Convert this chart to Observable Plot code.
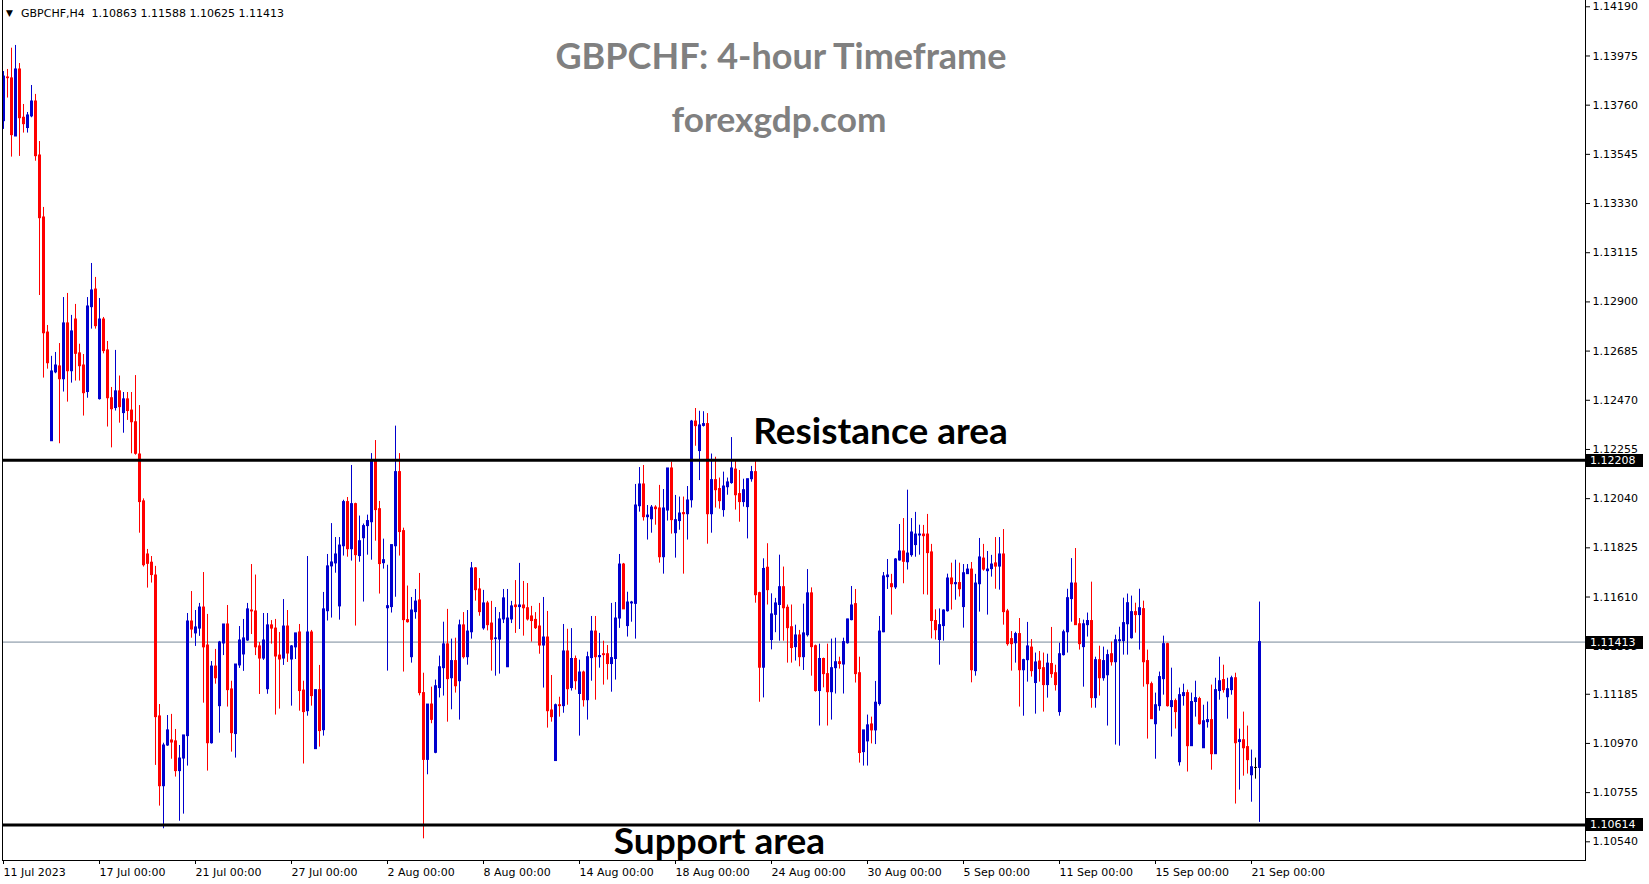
<!DOCTYPE html>
<html><head><meta charset="utf-8">
<script src="https://cdn.jsdelivr.net/npm/d3@7"></script>
<script src="https://cdn.jsdelivr.net/npm/@observablehq/plot@0.6"></script>
<style>
html,body{margin:0;padding:0;background:#fff;}
#chart{position:relative;width:1649px;height:884px;overflow:hidden;}
</style></head><body><div id="chart"></div>
<script>
const symbolLabel = "GBPCHF,H4";
const titleText = "GBPCHF: 4-hour Timeframe";
const subtitleText = "forexgdp.com";
const resistanceLabel = "Resistance area";
const supportLabel = "Support area";

const openP = [
1.13690,1.13881,1.13877,1.13623,1.13916,1.13705,1.13660,1.13711,1.13776,1.13540,
1.13269,1.12766,1.12291,1.12592,1.12618,1.12562,1.12806,1.12597,1.12823,1.12675,
1.12622,1.12506,1.12877,1.12954,1.12475,1.12823,1.12688,1.12479,1.12436,1.12509,
1.12414,1.12474,1.12425,1.12374,1.12233,1.12028,1.11796,1.11760,1.11704,1.11088,
1.10783,1.10961,1.10983,1.10979,1.10849,1.10904,1.11002,1.11503,1.11451,1.11472,
1.11564,1.11398,1.10971,1.11306,1.11133,1.11407,1.11490,1.11206,1.11011,1.11311,
1.11359,1.11420,1.11551,1.11547,1.11394,1.11341,1.11207,1.11486,1.11472,1.11354,
1.11341,1.11481,1.11337,1.11390,1.11455,1.11201,1.11111,1.11455,1.10945,1.11203,
1.11028,1.11548,1.11744,1.11757,1.11569,1.11832,1.12025,1.11819,1.12016,1.11789,
1.11867,1.11920,1.11937,1.12207,1.11994,1.11758,1.11561,1.11566,1.11832,1.12156,
1.11898,1.11509,1.11347,1.11544,1.11595,1.11190,1.10898,1.11140,1.10929,1.11212,
1.11299,1.11403,1.11255,1.11330,1.11242,1.11486,1.11347,1.11456,1.11735,1.11643,
1.11473,1.11582,1.11494,1.11426,1.11424,1.11512,1.11303,1.11512,1.11573,1.11566,
1.11573,1.11561,1.11525,1.11510,1.11481,1.11398,1.11433,1.11114,1.10893,1.11137,
1.11133,1.11372,1.11212,1.11339,1.11186,1.11280,1.11159,1.11343,1.11459,1.11347,
1.11360,1.11360,1.11317,1.11339,1.11516,1.11752,1.11483,1.11582,1.11580,1.12007,
1.12102,1.11959,1.11950,1.12001,1.11997,1.11784,1.11988,1.12172,1.11889,1.11942,
1.11977,1.11972,1.12033,1.12377,1.12248,1.12358,1.12366,1.11972,1.12121,1.12082,
1.11990,1.12090,1.12108,1.12167,1.12060,1.12025,1.12003,1.12125,1.12156,1.11627,
1.11301,1.11738,1.11422,1.11532,1.11575,1.11653,1.11563,1.11478,1.11391,1.11442,
1.11347,1.11443,1.11626,1.11395,1.11199,1.11339,1.11273,1.11194,1.11299,1.11325,
1.11315,1.11408,1.11509,1.11579,1.11277,1.10932,1.10979,1.11053,1.11027,1.11142,
1.11456,1.11697,1.11666,1.11652,1.11770,1.11809,1.11762,1.11793,1.11837,1.11879,
1.11883,1.11883,1.11805,1.11505,1.11422,1.11483,1.11548,1.11691,1.11666,1.11671,
1.11566,1.11710,1.11730,1.11286,1.11666,1.11778,1.11723,1.11732,1.11757,1.11743,
1.11796,1.11547,1.11426,1.11408,1.11448,1.11290,1.11334,1.11389,1.11234,1.11328,
1.11299,1.11225,1.11317,1.11277,1.11107,1.11356,1.11456,1.11601,1.11669,1.11491,
1.11391,1.11487,1.11505,1.11168,1.11334,1.11255,1.11268,1.11360,1.11325,1.11417,
1.11417,1.11491,1.11430,1.11544,1.11531,1.11557,1.11330,1.11229,1.11054,1.11133,
1.11251,1.11404,1.11129,1.11155,1.10888,1.11177,1.11190,1.10958,1.11151,1.11164,
1.10949,1.11063,1.11072,1.10923,1.11199,1.11247,1.11172,1.11203,1.11255,1.10976,
1.10984,1.10954,1.10831,1.10863,1.10863];

const highP = [
1.13907,1.13916,1.14009,1.14021,1.13942,1.13763,1.13728,1.13846,1.13807,1.13601,
1.13313,1.12797,1.12662,1.12679,1.12718,1.12919,1.12937,1.12841,1.12889,1.12715,
1.12670,1.12919,1.13068,1.13007,1.12915,1.12832,1.12727,1.12526,1.12688,1.12576,
1.12504,1.12504,1.12504,1.12578,1.12447,1.12039,1.11818,1.11787,1.11744,1.11140,
1.10971,1.11092,1.11097,1.11031,1.10961,1.11005,1.11538,1.11634,1.11551,1.11582,
1.11717,1.11534,1.11328,1.11381,1.11416,1.11490,1.11573,1.11242,1.11315,1.11481,
1.11512,1.11582,1.11752,1.11706,1.11411,1.11538,1.11538,1.11507,1.11512,1.11455,
1.11599,1.11551,1.11398,1.11451,1.11490,1.11242,1.11787,1.11464,1.11203,1.11311,
1.11630,1.11796,1.11931,1.11870,1.11870,1.12033,1.12045,1.12185,1.12020,1.11964,
1.11929,1.11968,1.12237,1.12294,1.12028,1.11863,1.11749,1.11837,1.12357,1.12237,
1.11911,1.11658,1.11608,1.11643,1.11713,1.11277,1.11140,1.11216,1.11247,1.11352,
1.11500,1.11556,1.11426,1.11430,1.11509,1.11542,1.11551,1.11761,1.11739,1.11691,
1.11639,1.11591,1.11591,1.11564,1.11542,1.11643,1.11643,1.11591,1.11682,1.11757,
1.11678,1.11669,1.11569,1.11542,1.11582,1.11608,1.11547,1.11267,1.11142,1.11172,
1.11490,1.11469,1.11472,1.11352,1.11334,1.11286,1.11369,1.11525,1.11525,1.11451,
1.11417,1.11398,1.11582,1.11586,1.11796,1.11757,1.11631,1.11591,1.12102,1.12176,
1.12185,1.12010,1.12010,1.12009,1.12098,1.12080,1.12172,1.12200,1.12054,1.12047,
1.12047,1.12093,1.12382,1.12434,1.12422,1.12420,1.12412,1.12235,1.12221,1.12130,
1.12156,1.12130,1.12307,1.12204,1.12163,1.12125,1.12125,1.12181,1.12202,1.11631,
1.11777,1.11843,1.11624,1.11604,1.11793,1.11741,1.11575,1.11575,1.11487,1.11464,
1.11579,1.11730,1.11650,1.11400,1.11404,1.11343,1.11404,1.11426,1.11430,1.11347,
1.11430,1.11513,1.11656,1.11643,1.11347,1.11027,1.11094,1.11085,1.11241,1.11525,
1.11717,1.11774,1.11709,1.11778,1.11927,1.11953,1.12077,1.11953,1.11980,1.11924,
1.11923,1.11971,1.11840,1.11554,1.11558,1.11554,1.11710,1.11758,1.11771,1.11758,
1.11752,1.11752,1.11761,1.11709,1.11866,1.11840,1.11809,1.11792,1.11870,1.11870,
1.11905,1.11556,1.11459,1.11456,1.11516,1.11338,1.11499,1.11424,1.11365,1.11372,
1.11365,1.11360,1.11477,1.11312,1.11408,1.11465,1.11644,1.11778,1.11822,1.11516,
1.11509,1.11540,1.11675,1.11347,1.11395,1.11391,1.11378,1.11413,1.11443,1.11478,
1.11605,1.11623,1.11614,1.11583,1.11644,1.11592,1.11378,1.11238,1.11190,1.11282,
1.11439,1.11408,1.11299,1.11164,1.11212,1.11229,1.11203,1.11190,1.11242,1.11172,
1.11137,1.11151,1.11225,1.11255,1.11347,1.11312,1.11255,1.11264,1.11277,1.11033,
1.11107,1.11046,1.10941,1.10906,1.11588];

const lowP = [
1.13654,1.13791,1.13533,1.13623,1.13536,1.13638,1.13638,1.13705,1.13515,1.12928,
1.12567,1.12606,1.12291,1.12586,1.12280,1.12506,1.12462,1.12545,1.12554,1.12554,
1.12401,1.12479,1.12781,1.12781,1.12471,1.12673,1.12353,1.12262,1.12423,1.12370,
1.12326,1.12382,1.12236,1.12230,1.11889,1.11741,1.11649,1.11671,1.10874,1.10696,
1.10597,1.10957,1.10901,1.10823,1.10630,1.10661,1.10871,1.11430,1.11394,1.11438,
1.11146,1.10849,1.10967,1.11229,1.11015,1.11354,1.11129,1.10932,1.10906,1.11298,
1.11285,1.11416,1.11446,1.11354,1.11184,1.11333,1.11185,1.11404,1.11094,1.11120,
1.11311,1.11324,1.11133,1.11337,1.11111,1.10880,1.11089,1.11133,1.10945,1.10954,
1.11002,1.11505,1.11518,1.11714,1.11509,1.11789,1.11784,1.11767,1.11483,1.11762,
1.11588,1.11793,1.11771,1.11854,1.11623,1.11732,1.11286,1.11540,1.11609,1.11789,
1.11282,1.11496,1.11321,1.11513,1.11178,1.10553,1.10833,1.11056,1.10925,1.11169,
1.11177,1.11063,1.11117,1.11190,1.11072,1.11339,1.11312,1.11426,1.11592,1.11526,
1.11465,1.11462,1.11286,1.11264,1.11273,1.11494,1.11303,1.11494,1.11451,1.11468,
1.11439,1.11505,1.11413,1.11468,1.11360,1.11212,1.11037,1.11063,1.10893,1.11085,
1.11102,1.11137,1.11199,1.11203,1.11002,1.11129,1.11072,1.11242,1.11159,1.11299,
1.11225,1.11247,1.11194,1.11247,1.11473,1.11556,1.11435,1.11500,1.11426,1.11981,
1.11942,1.11859,1.11889,1.11924,1.11758,1.11710,1.11942,1.11885,1.11780,1.11902,
1.11710,1.11859,1.11999,1.12269,1.12119,1.12353,1.11841,1.11889,1.11999,1.11994,
1.11959,1.12055,1.12103,1.11990,1.11937,1.12003,1.11864,1.12112,1.11583,1.11150,
1.11169,1.11575,1.11379,1.11454,1.11417,1.11417,1.11321,1.11321,1.11330,1.11305,
1.11289,1.11435,1.11264,1.11194,1.11046,1.11213,1.11046,1.11072,1.11186,1.11295,
1.11186,1.11404,1.11506,1.11234,1.10884,1.10871,1.10871,1.10968,1.10965,1.11133,
1.11454,1.11643,1.11531,1.11643,1.11767,1.11668,1.11728,1.11784,1.11784,1.11793,
1.11620,1.11618,1.11427,1.11422,1.11312,1.11417,1.11544,1.11553,1.11596,1.11610,
1.11474,1.11710,1.11235,1.11264,1.11544,1.11723,1.11531,1.11697,1.11644,1.11640,
1.11487,1.11395,1.11286,1.11321,1.11129,1.11089,1.11238,1.11260,1.11098,1.11238,
1.11107,1.11168,1.11255,1.11199,1.11089,1.11352,1.11365,1.11500,1.11487,1.11378,
1.11216,1.11435,1.11124,1.11124,1.11177,1.11242,1.11046,1.11308,1.10963,1.10958,
1.11356,1.11356,1.11426,1.11452,1.11378,1.11216,1.10989,1.11076,1.10901,1.11111,
1.11181,1.11129,1.10998,1.11033,1.10871,1.11133,1.10845,1.10958,1.11085,1.11050,
1.10949,1.11037,1.10853,1.10923,1.11159,1.11190,1.11076,1.11181,1.10705,1.10766,
1.10827,1.10836,1.10713,1.10814,1.10625];

const closeP = [
1.13885,1.13878,1.13629,1.13916,1.13703,1.13677,1.13715,1.13776,1.13537,1.13266,
1.12763,1.12632,1.12596,1.12622,1.12562,1.12806,1.12597,1.12771,1.12673,1.12619,
1.12501,1.12880,1.12950,1.12794,1.12823,1.12685,1.12479,1.12431,1.12509,1.12440,
1.12474,1.12423,1.12374,1.12236,1.12025,1.11749,1.11755,1.11706,1.11085,1.10783,
1.10961,1.11027,1.10974,1.10849,1.10904,1.11005,1.11503,1.11468,1.11477,1.11564,
1.11390,1.10971,1.11306,1.11255,1.11411,1.11490,1.11203,1.11015,1.11315,1.11420,
1.11429,1.11556,1.11547,1.11390,1.11341,1.11420,1.11486,1.11472,1.11350,1.11337,
1.11481,1.11363,1.11394,1.11451,1.11199,1.11107,1.11455,1.11177,1.11203,1.11024,
1.11556,1.11744,1.11761,1.11796,1.11835,1.12025,1.11819,1.12016,1.11793,1.11854,
1.11920,1.11942,1.12207,1.11990,1.11754,1.11771,1.11570,1.11837,1.12156,1.11894,
1.11509,1.11500,1.11551,1.11590,1.11190,1.10898,1.11140,1.11073,1.11220,1.11303,
1.11403,1.11251,1.11330,1.11220,1.11486,1.11347,1.11459,1.11735,1.11640,1.11544,
1.11582,1.11487,1.11423,1.11429,1.11512,1.11604,1.11516,1.11569,1.11566,1.11573,
1.11561,1.11512,1.11505,1.11474,1.11398,1.11433,1.11111,1.11085,1.11137,1.11133,
1.11372,1.11207,1.11339,1.11242,1.11280,1.11159,1.11347,1.11459,1.11347,1.11352,
1.11356,1.11317,1.11343,1.11516,1.11752,1.11556,1.11586,1.11586,1.12010,1.12102,
1.11959,1.11966,1.12001,1.11994,1.11784,1.11997,1.12172,1.11946,1.11946,1.11975,
1.11972,1.12032,1.12377,1.12357,1.12360,1.12366,1.11972,1.12121,1.12077,1.12029,
1.12093,1.12111,1.12172,1.12055,1.12025,1.12077,1.12125,1.12156,1.11618,1.11301,
1.11733,1.11640,1.11534,1.11582,1.11653,1.11561,1.11474,1.11387,1.11442,1.11347,
1.11451,1.11626,1.11391,1.11199,1.11339,1.11273,1.11194,1.11299,1.11325,1.11317,
1.11413,1.11512,1.11573,1.11273,1.10928,1.11027,1.11049,1.11027,1.11148,1.11459,
1.11700,1.11704,1.11653,1.11774,1.11809,1.11764,1.11800,1.11892,1.11883,1.11883,
1.11876,1.11802,1.11505,1.11465,1.11487,1.11551,1.11691,1.11666,1.11671,1.11644,
1.11714,1.11730,1.11290,1.11669,1.11783,1.11730,1.11730,1.11752,1.11743,1.11796,
1.11544,1.11404,1.11404,1.11448,1.11290,1.11334,1.11394,1.11286,1.11324,1.11295,
1.11225,1.11319,1.11273,1.11225,1.11360,1.11456,1.11605,1.11669,1.11487,1.11404,
1.11491,1.11505,1.11168,1.11334,1.11255,1.11330,1.11356,1.11325,1.11421,1.11421,
1.11496,1.11583,1.11544,1.11531,1.11561,1.11325,1.11229,1.11076,1.11137,1.11260,
1.11404,1.11133,1.11155,1.11107,1.11181,1.11190,1.10958,1.11151,1.11168,1.11054,
1.11067,1.11072,1.10923,1.11203,1.11242,1.11203,1.11207,1.11255,1.10971,1.10984,
1.10949,1.10897,1.10866,1.10863,1.11413];

const xTickIndex = [0,24,48,72,96,120,144,168,192,216,240,264,288,312];
const xTickLabels = ["11 Jul 2023","17 Jul 00:00","21 Jul 00:00","27 Jul 00:00","2 Aug 00:00","8 Aug 00:00","14 Aug 00:00","18 Aug 00:00","24 Aug 00:00","30 Aug 00:00","5 Sep 00:00","11 Sep 00:00","15 Sep 00:00","21 Sep 00:00"];
const yTickValues = [1.14190,1.13975,1.13760,1.13545,1.13330,1.13115,1.12900,1.12685,1.12470,1.12255,1.12040,1.11825,1.11610,1.11395,1.11185,1.10970,1.10755,1.10540];
const resistanceLevel = 1.12208;
const supportLevel = 1.10614;

const BULL = "#0000CD", BEAR = "#FF0000", DOJI = "#000000";
const n = openP.length;
const currentPrice = closeP[n - 1];
const candles = openP.map((o, i) => ({i, o, h: highP[i], l: lowP[i], c: closeP[i]}));
const colorOf = d => d.c > d.o ? BULL : d.c < d.o ? BEAR : DOJI;

const chart = Plot.plot({
  width: 1649, height: 884,
  marginLeft: 3, marginRight: 66, marginTop: 0, marginBottom: 24,
  x: {type: "linear", domain: [0, 395]},
  y: {domain: [1.104583, 1.142175]},
  color: {type: "identity"},
  style: {fontFamily: "DejaVu Sans", fontSize: "11px", color: "#000", background: "#fff", overflow: "visible"},
  marks: [
    Plot.ruleY([currentPrice], {stroke: "#778899", strokeWidth: 1, insetLeft: -1, insetRight: -2}),
    Plot.ruleX(candles, {x: "i", y1: "h", y2: "l", stroke: colorOf, strokeWidth: 1}),
    Plot.ruleX(candles, {x: "i", y1: d => Math.max(d.o, d.c), y2: d => Math.min(d.o, d.c), stroke: colorOf, strokeWidth: 3, insetTop: -0.5, insetBottom: -0.5}),
    Plot.ruleY([resistanceLevel, supportLevel], {stroke: "#000", strokeWidth: 3, insetLeft: -1, insetRight: -2}),
    Plot.axisY(yTickValues, {anchor: "right", tickSize: 4, tickPadding: 3, dx: 2, label: null, tickFormat: d => d.toFixed(5)}),
    Plot.axisX(xTickIndex, {anchor: "bottom", tickSize: 4, tickPadding: 4, textAnchor: "start", dx: 0, label: null,
      tickFormat: d => xTickLabels[xTickIndex.indexOf(d)]})
  ]
});
document.getElementById("chart").appendChild(chart);

const svg = d3.select(chart);
const ys = chart.scale("y");
// frame lines
const frame = svg.append("g").attr("stroke", "#000").attr("stroke-width", 1);
frame.append("line").attr("x1", 2.5).attr("x2", 2.5).attr("y1", 0).attr("y2", 861);
frame.append("line").attr("x1", 1585.5).attr("x2", 1585.5).attr("y1", 0).attr("y2", 861);
frame.append("line").attr("x1", 2).attr("x2", 1586).attr("y1", 860.5).attr("y2", 860.5);

// highlighted price labels on the right axis
const hl = svg.append("g").attr("text-anchor", "start");
[resistanceLevel, currentPrice, supportLevel].forEach(v => {
  const py = Math.round(ys.apply(v));
  hl.append("rect").attr("x", 1586).attr("y", py - 6).attr("width", 57).attr("height", 13).attr("fill", "#000");
  hl.append("text").attr("x", 1590).attr("y", py + 4).attr("fill", "#fff")
    .attr("font-family", "DejaVu Sans").attr("font-size", 11).text(v.toFixed(5));
});

// header
const hdr = svg.append("g").attr("font-family", "DejaVu Sans").attr("fill", "#000").attr("text-anchor", "start");
hdr.append("text").attr("x", 6).attr("y", 16).attr("font-size", 9).text("▼");
hdr.append("text").attr("x", 21).attr("y", 17).attr("font-size", 11).text(symbolLabel);
hdr.append("text").attr("x", 91.5).attr("y", 17).attr("font-size", 11)
  .text([openP[n-1], highP[n-1], lowP[n-1], closeP[n-1]].map(v => v.toFixed(5)).join(" "));

// titles and annotations
const t = svg.append("g").attr("font-family", "Lato").attr("font-weight", 700).attr("text-anchor", "middle");
t.append("text").attr("x", 781).attr("y", 69).attr("font-size", 36).attr("fill", "#808080").text(titleText);
t.append("text").attr("x", 779).attr("y", 132).attr("font-size", 35.2).attr("fill", "#808080").text(subtitleText);
t.append("text").attr("x", 880.5).attr("y", 443.5).attr("font-size", 37).attr("fill", "#000").text(resistanceLabel);
t.append("text").attr("x", 719.5).attr("y", 854).attr("font-size", 37).attr("fill", "#000").text(supportLabel);
</script>
</body></html>
